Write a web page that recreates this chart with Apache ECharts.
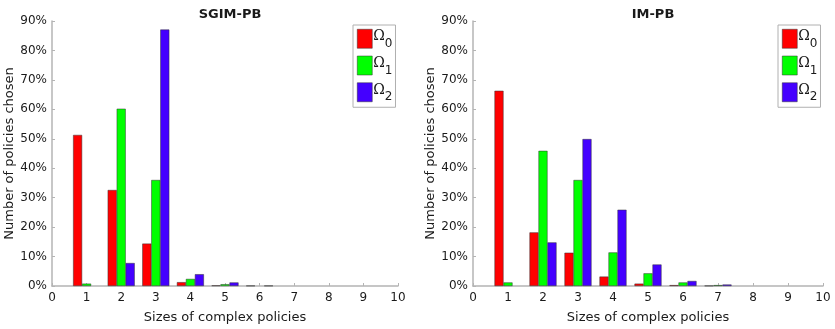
<!DOCTYPE html>
<html>
<head>
<meta charset="utf-8">
<script src="https://cdn.jsdelivr.net/npm/echarts@6/dist/echarts.min.js"></script>
<style>
  html, body { margin: 0; padding: 0; background: #fff; }
  #chart { width: 835px; height: 329px; }
</style>
</head>
<body>
<div id="chart"></div>
<script>
// policy sizes shown on the x axis
var sizes = [1, 2, 3, 4, 5, 6, 7, 8];

// SGIM-PB: share of policies chosen (%) per size
var sgimOmega0 = [51.3, 32.6, 14.4, 1.3, 0.2, 0.1, 0, 0];
var sgimOmega1 = [0.8, 60.2, 36.0, 2.4, 0.6, 0, 0, 0];
var sgimOmega2 = [0, 7.8, 87.1, 4.0, 1.2, 0.1, 0, 0];

// IM-PB
var imOmega0 = [66.3, 18.2, 11.3, 3.2, 0.8, 0.3, 0.1, 0];
var imOmega1 = [1.2, 45.9, 36.0, 11.4, 4.3, 1.2, 0.3, 0];
var imOmega2 = [0, 14.8, 49.9, 25.9, 7.3, 1.7, 0.5, 0];

var seriesNames = ['Ω0', 'Ω1', 'Ω2'];
var colors = ['#ff0000', '#00ff00', '#4400ff'];
var titles = ['SGIM-PB', 'IM-PB'];

// [size, value] pairs, leaving out empty bars
function pairs(vals) {
    var out = [];
    for (var i = 0; i < sizes.length; i++) {
        if (vals[i] > 0) {
            out.push([sizes[i], vals[i]]);
        }
    }
    return out;
}

var dom = document.getElementById('chart');
var chart = echarts.init(dom);

var axisGray = '#b4b4b4';
var txt = '#1a1a1a';
var font = 'DejaVu Sans';

function xAxisFor(idx) {
    return {
        gridIndex: idx,
        type: 'value',
        min: 0, max: 10, interval: 1,
        name: 'Sizes of complex policies',
        nameLocation: 'middle',
        nameGap: 25,
        nameTextStyle: { color: txt, fontSize: 13, fontFamily: font },
        axisLine: { show: true, lineStyle: { color: axisGray, width: 1.5 } },
        axisTick: { show: true, inside: true, length: 3, lineStyle: { color: axisGray } },
        axisLabel: { color: txt, fontSize: 12, fontFamily: font, margin: 6 },
        splitLine: { show: false }
    };
}

function yAxisFor(idx) {
    return {
        gridIndex: idx,
        type: 'value',
        min: 0, max: 90, interval: 10,
        name: 'Number of policies chosen',
        nameLocation: 'middle',
        nameGap: 33,
        nameTextStyle: { color: txt, fontSize: 13, fontFamily: font },
        axisLine: { show: true, lineStyle: { color: axisGray, width: 1.5 } },
        axisTick: { show: true, inside: true, length: 3, lineStyle: { color: axisGray } },
        axisLabel: { color: txt, fontSize: 12, fontFamily: font, margin: 5, formatter: '{value}%' },
        splitLine: { show: false }
    };
}

function legendFor(left) {
    return {
        orient: 'vertical',
        left: left,
        top: 25,
        icon: 'rect',
        itemWidth: 15,
        itemHeight: 19,
        itemGap: 6,
        padding: [4, 3, 4, 4],
        borderColor: '#b0b0b0',
        borderWidth: 1,
        backgroundColor: '#fff',
        selectedMode: false,
        data: seriesNames,
        itemStyle: { borderColor: '#333', borderWidth: 0.5 },
        formatter: function (name) {
            return '{o|Ω}{s|' + name.substring(1) + '}';
        },
        textStyle: {
            padding: [0, 0, 0, -4],
            rich: {
                o: { fontFamily: 'DejaVu Serif', fontSize: 14, color: txt, padding: [0, 0, 4, 0] },
                s: { fontFamily: font, fontSize: 12, color: txt, padding: [10, 0, 0, 0] }
            }
        }
    };
}

var allData = [
    [sgimOmega0, sgimOmega1, sgimOmega2],
    [imOmega0, imOmega1, imOmega2]
];

var series = [];
for (var g = 0; g < 2; g++) {
    for (var s = 0; s < 3; s++) {
        series.push({
            name: seriesNames[s],
            type: 'bar',
            xAxisIndex: g,
            yAxisIndex: g,
            data: pairs(allData[g][s]),
            barWidth: 9,
            barGap: '0%',
            itemStyle: { color: colors[s], borderColor: '#333', borderWidth: 0.5 }
        });
    }
}

var option = {
    backgroundColor: '#fff',
    animation: false,
    title: [
        { text: titles[0], left: 225, top: 3, textAlign: 'center',
          textStyle: { fontSize: 13, fontWeight: 'bold', color: txt, fontFamily: font } },
        { text: titles[1], left: 648, top: 3, textAlign: 'center',
          textStyle: { fontSize: 13, fontWeight: 'bold', color: txt, fontFamily: font } }
    ],
    legend: [legendFor(353), legendFor(778)],
    grid: [
        { left: 52, top: 21, width: 346, height: 270 },
        { left: 473, top: 21, width: 350, height: 270 }
    ],
    xAxis: [xAxisFor(0), xAxisFor(1)],
    yAxis: [yAxisFor(0), yAxisFor(1)],
    series: series
};

chart.setOption(option);
window.addEventListener('resize', function () {
    chart.resize();
});
</script>
</body>
</html>
